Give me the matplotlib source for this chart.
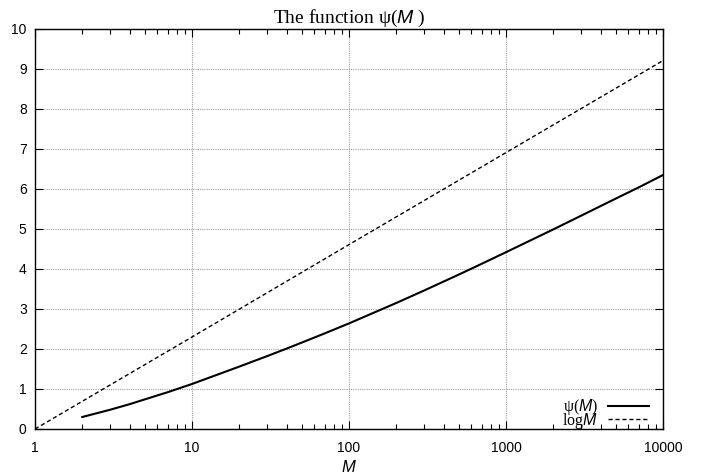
import matplotlib.pyplot as plt

# data
m_psi = [2, 3, 4, 5, 7, 10, 20, 30, 40, 50, 70, 100, 200, 300, 500, 700,
         1000, 2000, 3000, 5000, 7000, 10000]
psi = [0.30, 0.48, 0.62, 0.74, 0.92, 1.125, 1.56, 1.82, 2.01, 2.16, 2.39,
       2.64, 3.15, 3.46, 3.86, 4.13, 4.42, 4.99, 5.33, 5.76, 6.04, 6.35]

m_log = [1, 10, 100, 1000, 10000]
logm = [0.0, 2.30, 4.61, 6.91, 9.21]

y_ticks = list(range(0, 11))
x_ticks = [1, 10, 100, 1000, 10000]
x_labels = ["1", "10", "100", "1000", "10000"]

plt.rcParams['mathtext.fontset'] = 'custom'
plt.rcParams['mathtext.it'] = 'Liberation Sans:italic'
plt.rcParams['mathtext.rm'] = 'Liberation Serif'

fig = plt.figure(figsize=(7.02, 4.76), dpi=100)
ax = fig.add_axes([35 / 702, 47 / 476, 628 / 702, 400 / 476])

ax.plot(m_psi, psi, color='black', lw=1.5, label=r"ψ($M$)")
ax.plot(m_log, logm, color='black', lw=1.0, linestyle=(0, (3, 2)), label=r"log$M$")

ax.set_xscale('log')
ax.set_xlim(1, 10000)
ax.set_ylim(0, 10)
ax.set_xticks(x_ticks)
ax.set_xticklabels(x_labels)
ax.set_yticks(y_ticks)

for lab in ax.get_xticklabels() + ax.get_yticklabels():
    lab.set_fontfamily('Liberation Sans')
    lab.set_fontsize(10)

ax.tick_params(which='both', direction='in', top=True, right=True, color='black')
ax.tick_params(which='major', length=6, width=0.8, pad=6)
ax.tick_params(which='minor', length=3.5, width=0.8)
ax.tick_params(axis='x', pad=9)

ax.grid(True, which='major', color='#a0a0a0', linestyle=(0, (1, 1)), lw=0.8)
for s in ax.spines.values():
    s.set_linewidth(1.0)

ax.set_title(r"The function ψ($M$ )", fontfamily='Liberation Serif', fontsize=14, pad=4)
ax.set_xlabel(r"$M$", fontsize=12, labelpad=2)

ax.legend(loc='lower right', bbox_to_anchor=(0.978, -0.004), frameon=False,
          markerfirst=False, prop={'family': 'Liberation Serif', 'size': 11.5},
          handlelength=2.6, handletextpad=0.6, labelspacing=-0.42,
          borderaxespad=0, borderpad=0)

plt.savefig("out.png", dpi=100)
